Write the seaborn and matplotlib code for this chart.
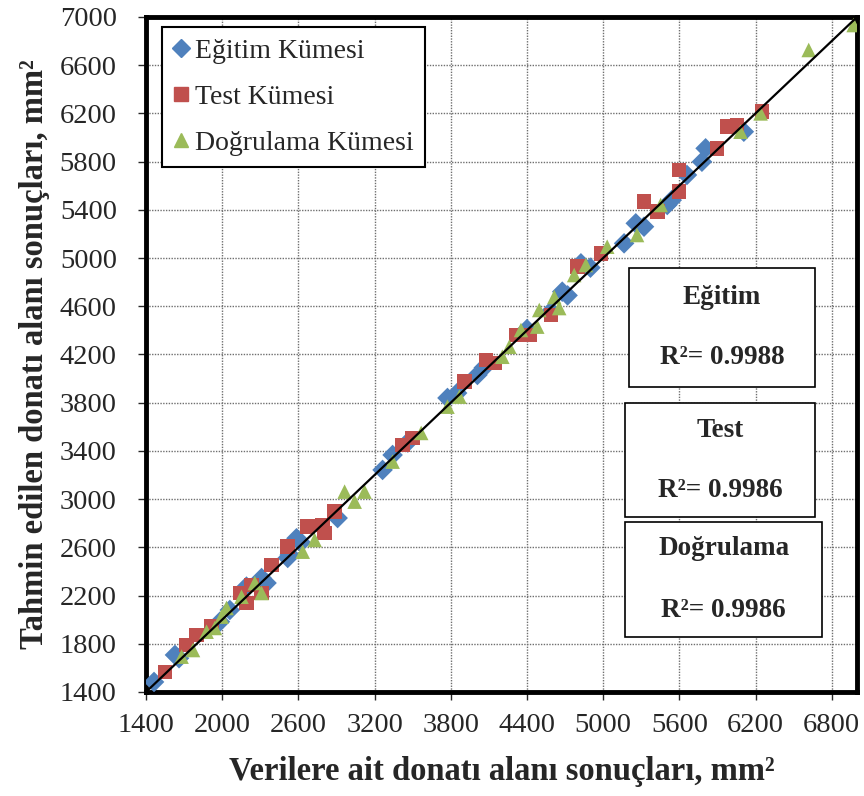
import pandas as pd
import matplotlib.pyplot as plt
import seaborn as sns
from matplotlib.patches import Rectangle
from matplotlib.lines import Line2D

# Eğitim (training) set: observed vs predicted
egitim_x = [1463, 1628, 1660, 1982, 2060, 2191, 2310, 2349, 2516, 2532, 2585, 2620,
            2909, 3263, 3342, 3460, 3774, 3850, 4010, 4060, 4400, 4590, 4678, 4720,
            4825, 4900, 5165, 5257, 5322, 5505, 5540, 5660, 5778, 5807, 6108]
egitim_y = [1483, 1707, 1680, 1983, 2080, 2274, 2345, 2304, 2512, 2537, 2675, 2640,
            2843, 3242, 3366, 3470, 3839, 3880, 4030, 4090, 4410, 4560, 4721, 4690,
            4956, 4920, 5122, 5288, 5260, 5440, 5480, 5689, 5799, 5910, 6048]

# Test set
test_x = [1549, 1720, 1798, 1916, 2139, 2191, 2230, 2310, 2390, 2516, 2673, 2791,
          2807, 2886, 3420, 3499, 3907, 4078, 4143, 4314, 4418, 4589, 4796, 4982,
          5322, 5427, 5597, 5597, 5896, 5975, 6053, 6250]
test_y = [1566, 1790, 1873, 1942, 2221, 2138, 2288, 2221, 2453, 2605, 2772, 2786,
          2719, 2896, 3449, 3507, 3974, 4154, 4129, 4362, 4362, 4528, 4928, 5039,
          5467, 5384, 5550, 5730, 5910, 6090, 6104, 6214]

# Doğrulama (validation) set
dogrulama_x = [1680, 1770, 1877, 1942, 1995, 2034, 2152, 2257, 2310, 2634, 2728, 2964,
               3043, 3121, 3342, 3567, 3774, 3868, 4206, 4261, 4353, 4481, 4497, 4615,
               4654, 4772, 4864, 5032, 5267, 5453, 6082, 6240, 6619, 6973]
dogrulama_y = [1693, 1748, 1900, 1931, 2025, 2097, 2190, 2304, 2221, 2564, 2661, 3062,
               2979, 3062, 3311, 3549, 3767, 3850, 4181, 4264, 4403, 4431, 4569, 4676,
               4585, 4859, 4942, 5094, 5191, 5440, 6048, 6200, 6726, 6933]

set_names = ["Eğitim Kümesi", "Test Kümesi", "Doğrulama Kümesi"]
box_titles = ["Eğitim", "Test", "Doğrulama"]
r2_values = [0.9988, 0.9986, 0.9986]
ticks = [1400, 2000, 2600, 3200, 3800, 4400, 5000, 5600, 6200, 6800]
yticks = list(range(1400, 7001, 400))

df = pd.concat([
    pd.DataFrame({"x": egitim_x, "y": egitim_y, "set": set_names[0]}),
    pd.DataFrame({"x": test_x, "y": test_y, "set": set_names[1]}),
    pd.DataFrame({"x": dogrulama_x, "y": dogrulama_y, "set": set_names[2]}),
], ignore_index=True)

sns.set_style("white")
plt.rcParams['font.family'] = ['Liberation Serif', 'DejaVu Serif']

palette = {set_names[0]: "#4F81BD", set_names[1]: "#C0504D", set_names[2]: "#9BBB59"}
markers = {set_names[0]: "D", set_names[1]: "s", set_names[2]: "^"}

fig = plt.figure(figsize=(8.64, 7.96), dpi=100)
ax = fig.add_axes([0.169, 0.1307, 0.823, 0.848])

ax.plot([1400, 7000], [1400, 7000], color="black", lw=1.6, zorder=4)
sns.scatterplot(data=df, x="x", y="y", hue="set", style="set", palette=palette,
                markers=markers, s=110, linewidth=0, ax=ax, zorder=3, legend=False)

ax.set_xlim(1400, 7000)
ax.set_ylim(1400, 7000)
ax.set_xticks(ticks)
ax.set_yticks(yticks)
ax.grid(True, color="#6f6f6f", linestyle=(0, (1, 1)), lw=1)
ax.set_axisbelow(True)
for sp in ax.spines.values():
    sp.set_linewidth(3.5)
    sp.set_color("black")
ax.tick_params(bottom=True, left=True, direction="out", length=6, width=1,
               labelsize=20.5)
ax.tick_params(axis="x", pad=9)
ax.tick_params(axis="y", pad=15)

ax.set_xlabel("Verilere ait donatı alanı sonuçları, mm²", fontsize=23.5,
              fontweight="bold", labelpad=13)
ax.set_ylabel("Tahmin edilen donatı alanı sonuçları, mm²", fontsize=23.5,
              fontweight="bold", labelpad=7)

handles = [Line2D([], [], ls="", marker=markers[n], color=palette[n],
                  markersize=10 if markers[n] != "D" else 9) for n in set_names]
leg = ax.legend(handles, set_names, loc="upper left", bbox_to_anchor=(0.0225, 0.985),
                borderaxespad=0, fontsize=20, frameon=True, fancybox=False,
                labelspacing=0.75, handletextpad=0.2, handlelength=0.6,
                borderpad=0.4)
leg.get_frame().set_edgecolor("black")
leg.get_frame().set_linewidth(1.5)
leg.get_frame().set_alpha(1)
leg.set_zorder(6)

# R² boxes (axes fractions)
boxes = [(0.679, 0.452, 0.262, 0.176, 0.585, 0.496),
         (0.674, 0.259, 0.267, 0.169, 0.388, 0.298),
         (0.674, 0.0815, 0.277, 0.1705, 0.212, 0.121)]
for (x0, y0, w, h, ty, ry), title, r2 in zip(boxes, box_titles, r2_values):
    ax.add_patch(Rectangle((x0, y0), w, h, transform=ax.transAxes, facecolor="white",
                           edgecolor="black", lw=1.2, zorder=5))
    cx = x0 + w / 2
    ax.text(cx, ty, title, transform=ax.transAxes, ha="center", va="center",
            fontsize=19.5, fontweight="bold", zorder=6)
    ax.text(cx, ry, f"R²= {r2:.4f}", transform=ax.transAxes, ha="center",
            va="center", fontsize=19.5, fontweight="bold", zorder=6)

plt.savefig("out.png", dpi=100)
plt.close()
